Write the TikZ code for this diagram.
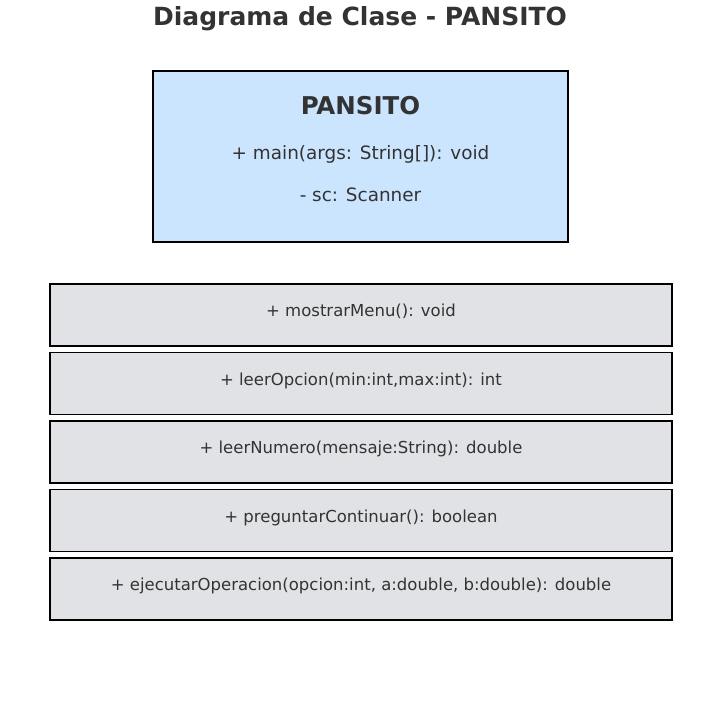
\documentclass[tikz,border=0pt]{standalone}
\usepackage{fontspec}
\setmainfont{DejaVu Sans}
\usetikzlibrary{positioning}
\definecolor{txtgray}{HTML}{333333}
\definecolor{classblue}{HTML}{CCE5FF}
\definecolor{methgray}{HTML}{E1E2E5}

\begin{document}
\begin{tikzpicture}[x=1pt, y=1pt, node distance=6.5pt,
		classbox/.style={draw=black, fill=classblue, line width=1.7pt, minimum width=415pt, minimum height=171pt, inner sep=0pt},
		methbox/.style={draw=black, fill=methgray, line width=1.7pt, outer sep=0pt, minimum width=622pt, minimum height=62pt, inner sep=0pt, text height=13pt, text depth=10pt, font=\fontsize{16.5}{20}\selectfont, text=txtgray},
		member/.style={font=\fontsize{18.4}{22}\selectfont, text=txtgray, inner sep=0pt}]
		\useasboundingbox (0,0) rectangle (720,-715);
		\node [font=\bfseries\fontsize{25}{30}\selectfont, text=txtgray] (title) at (360,-18.5) {Diagrama de Clase - PANSITO};
		
		\node [classbox] (pansito) at (360.5,-156.5) {};
		\node [font=\bfseries\fontsize{24.5}{29}\selectfont, text=txtgray] (cname) at (360.5,-106) {PANSITO};
		\node [member] (mmain) at (360.5,-154.5) {+ main(args: String[]): void};
		\node [member] (msc) at (360.5,-195) {- sc: Scanner};
		
		\node [methbox] (mostrar) at (361,-315) {+ mostrarMenu(): void};
		\node [methbox, below= of mostrar] (leeropc) {+ leerOpcion(min:int,max:int): int};
		\node [methbox, below= of leeropc] (leernum) {+ leerNumero(mensaje:String): double};
		\node [methbox, below= of leernum] (preguntar) {+ preguntarContinuar(): boolean};
		\node [methbox, below= of preguntar] (ejecutar) {+ ejecutarOperacion(opcion:int, a:double, b:double): double};
	\end{tikzpicture}
\end{document}
